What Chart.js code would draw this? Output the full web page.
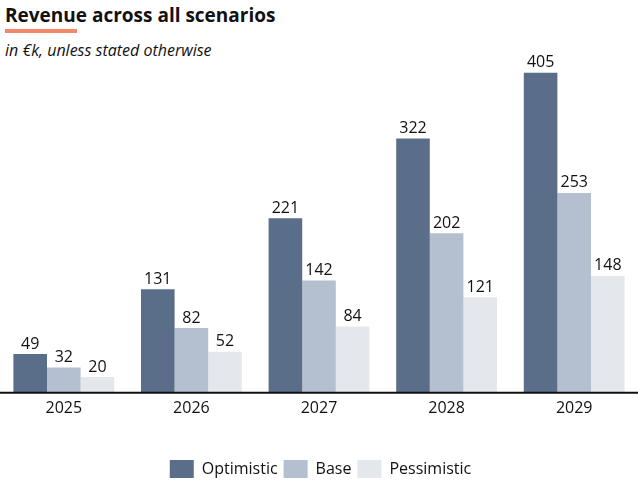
<!DOCTYPE html>
<html>
<head>
<meta charset="utf-8">
<script src="https://cdn.jsdelivr.net/npm/chart.js@4/dist/chart.umd.min.js"></script>
<style>
  html, body { margin: 0; padding: 0; background: #fff; }
  body { width: 638px; height: 483px; position: relative; overflow: hidden; font-family: "Open Sans", sans-serif; }
  #title { position: absolute; left: 5px; top: 2px; font-size: 19px; font-weight: 700; color: #111; white-space: nowrap; }
  #rule { position: absolute; left: 5px; top: 29px; width: 72px; height: 4px; background: #f4886a; }
  #subtitle { position: absolute; left: 5px; top: 39px; font-size: 16px; font-style: italic; color: #111; white-space: nowrap; }
  #wrap { position: absolute; left: 0; top: 0; width: 638px; height: 483px; }
</style>
</head>
<body>
<div id="title">Revenue across all scenarios</div>
<div id="rule"></div>
<div id="subtitle">in €k, unless stated otherwise</div>
<div id="wrap"><canvas id="chart" width="638" height="483"></canvas></div>
<script>
// Yearly revenue per scenario, in €k
const years = ["2025", "2026", "2027", "2028", "2029"];
const optimistic = [49, 131, 221, 322, 405];
const base = [32, 82, 142, 202, 253];
const pessimistic = [20, 52, 84, 121, 148];

const colors = { optimistic: "#5a6e8a", base: "#b4bfcf", pessimistic: "#e4e7ec" };

// Writes each bar's value just above it
const valueLabels = {
  id: "valueLabels",
  afterDatasetsDraw(chart) {
    const ctx = chart.ctx;
    ctx.save();
    ctx.font = "16px 'Open Sans'";
    ctx.fillStyle = "#111";
    ctx.textAlign = "center";
    ctx.textBaseline = "bottom";
    chart.data.datasets.forEach((ds, i) => {
      chart.getDatasetMeta(i).data.forEach((bar, j) => {
        ctx.fillText(String(ds.data[j]), bar.x, bar.y - 2);
      });
    });
    ctx.restore();
  }
};

// Solid baseline along the category axis
const baseline = {
  id: "baseline",
  afterDatasetsDraw(chart) {
    const ctx = chart.ctx;
    const y = chart.scales.y.getPixelForValue(0);
    ctx.save();
    ctx.strokeStyle = "#111";
    ctx.lineWidth = 2;
    ctx.beginPath();
    ctx.moveTo(0, y);
    ctx.lineTo(chart.width, y);
    ctx.stroke();
    ctx.restore();
  }
};

new Chart(document.getElementById("chart"), {
  type: "bar",
  data: {
    labels: years,
    datasets: [
      { label: "Optimistic", data: optimistic, backgroundColor: colors.optimistic },
      { label: "Base", data: base, backgroundColor: colors.base },
      { label: "Pessimistic", data: pessimistic, backgroundColor: colors.pessimistic }
    ]
  },
  options: {
    responsive: false,
    animation: false,
    layout: { padding: { left: 0, right: -3, top: 61, bottom: -5 } },
    datasets: { bar: { categoryPercentage: 0.79, barPercentage: 1.0 } },
    scales: {
      x: {
        grid: { display: false, drawTicks: false },
        border: { display: false },
        ticks: { color: "#111", font: { family: "'Open Sans'", size: 16 }, padding: 6 },
        afterFit(scale) { scale.height += 30; }
      },
      y: {
        display: false,
        min: 0,
        max: 420
      }
    },
    plugins: {
      legend: {
        position: "bottom",
        labels: {
          boxWidth: 24,
          boxHeight: 18,
          color: "#111",
          padding: 6,
          font: { family: "'Open Sans'", size: 16 }
        }
      },
      tooltip: { enabled: false }
    }
  },
  plugins: [valueLabels, baseline]
});
</script>
</body>
</html>
